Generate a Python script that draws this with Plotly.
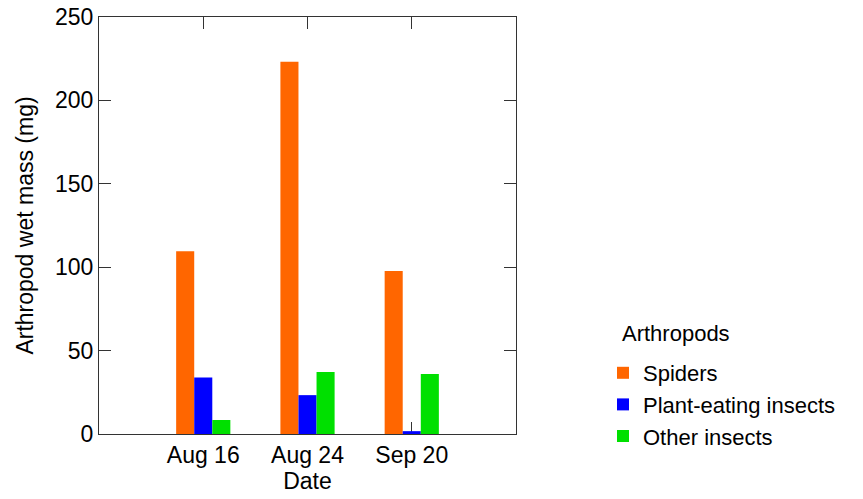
import plotly.graph_objects as go

dates = ["Aug 16", "Aug 24", "Sep 20"]
spiders = [109.5, 223.2, 97.7]
plant_eating = [33.8, 23.3, 1.7]
other_insects = [8.4, 37.2, 36.0]
series_names = ["Spiders", "Plant-eating insects", "Other insects"]
series_colors = ["#FF6600", "#0000FF", "#00E000"]
y_ticks = [0, 50, 100, 150, 200, 250]

FONT = "Liberation Sans, Arial, sans-serif"

W, H = 863, 499
L, R, T, B = 99, 347, 17, 65
pw = W - L - R
ph = H - T - B

fig = go.Figure()
for name, vals, col in zip(series_names, [spiders, plant_eating, other_insects], series_colors):
    fig.add_trace(go.Bar(x=dates, y=vals, name=name, marker=dict(color=col, line=dict(width=0))))

fig.update_layout(
    width=W, height=H,
    margin=dict(l=L, r=R, t=T, b=B, autoexpand=False),
    paper_bgcolor="white", plot_bgcolor="white",
    font=dict(family=FONT, size=23, color="black"),
    barmode="group", bargap=0.48, bargroupgap=0,
    showlegend=True,
    legend=dict(x=(603 - L) / pw, xanchor="left",
                y=(H - B - 352) / ph, yanchor="top",
                font=dict(size=22), tracegroupgap=0,
                itemclick=False, bgcolor="rgba(0,0,0,0)"),
    annotations=[dict(text="Arthropods", x=(620 - L) / pw, y=(H - B - 333) / ph,
                      xref="paper", yref="paper",
                      showarrow=False, xanchor="left", yanchor="middle", font=dict(size=22))],
)

fig.update_xaxes(
    type="category", range=[-1, 3],
    showline=True, mirror="ticks", linecolor="#333333", linewidth=1,
    ticks="inside", ticklen=12, tickcolor="#333333", tickwidth=1,
    showgrid=False, zeroline=False, layer="below traces",
    title=dict(text="Date", standoff=2, font=dict(size=23)),
    tickfont=dict(size=23),
)
fig.update_yaxes(
    range=[0, 250], tickvals=y_ticks,
    showline=True, mirror="ticks", linecolor="#333333", linewidth=1,
    ticks="inside", ticklen=12, tickcolor="#333333", tickwidth=1,
    showgrid=False, zeroline=False, ticklabeloverflow="allow",
    title=dict(text="Arthropod wet mass (mg)", standoff=14, font=dict(size=23)),
    tickfont=dict(size=23),
)

fig.write_html("out.html", config={"displayModeBar": False},
               post_script="document.body.style.margin='0';")
